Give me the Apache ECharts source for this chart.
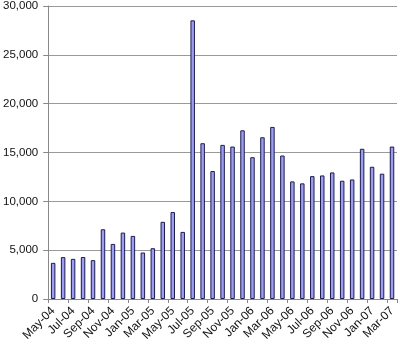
<!DOCTYPE html>
<html><head><meta charset="utf-8">
<script src="https://cdn.jsdelivr.net/npm/echarts@6/dist/echarts.min.js"></script>
<style>html,body{margin:0;padding:0;background:#fff}#c{width:400px;height:349px}</style>
</head><body><div id="c"></div>
<script>
var categories = ["May-04","Jun-04","Jul-04","Aug-04","Sep-04","Oct-04","Nov-04","Dec-04",
"Jan-05","Feb-05","Mar-05","Apr-05","May-05","Jun-05","Jul-05","Aug-05","Sep-05","Oct-05","Nov-05","Dec-05",
"Jan-06","Feb-06","Mar-06","Apr-06","May-06","Jun-06","Jul-06","Aug-06","Sep-06","Oct-06","Nov-06","Dec-06",
"Jan-07","Feb-07","Mar-07"];
var values = [3700,4290,4110,4300,3980,7140,5640,6800,
6460,4760,5200,7900,8900,6870,28530,15950,13100,15780,15610,17270,
14520,16560,17620,14690,12040,11840,12580,12650,12960,12110,12240,15380,
13540,12830,15610];
var yTicks = [0,5000,10000,15000,20000,25000,30000];

var chart = echarts.init(document.getElementById('c'), null, {renderer:'canvas'});
chart.setOption({
  animation:false,
  grid:{left:48,right:3,top:5,bottom:50,containLabel:false},
  xAxis:{type:'category',data:categories,boundaryGap:true,
    axisLine:{lineStyle:{color:'#888',width:1}},
    axisTick:{show:true,interval:1,length:4,lineStyle:{color:'#888'}},
    axisLabel:{interval:1,rotate:45,margin:10,color:'#111',fontFamily:'Liberation Sans, Arial',fontSize:12}},
  yAxis:{type:'value',min:yTicks[0],max:yTicks[yTicks.length-1],interval:5000,
    axisLine:{show:true,lineStyle:{color:'#888',width:1}},
    axisTick:{show:true,length:5,lineStyle:{color:'#888'}},
    splitLine:{lineStyle:{color:'#999',width:1}},
    axisLabel:{margin:10,color:'#111',fontFamily:'Liberation Sans, Arial',fontSize:11.5,
      formatter:function(v){return v.toLocaleString('en-US');}}},
  series:[{type:'bar',data:values,barWidth:'45%',
    itemStyle:{color:'#9d9df0',borderColor:'#1c1c50',borderWidth:1}}]
});
</script></body></html>
